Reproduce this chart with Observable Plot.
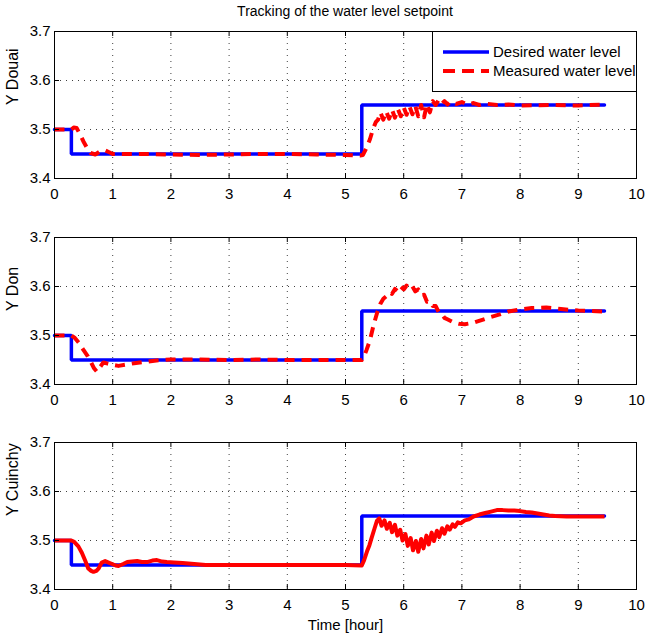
<!DOCTYPE html>
<html><head><meta charset="utf-8">
<script src="https://cdn.jsdelivr.net/npm/d3@7"></script>
<script src="https://cdn.jsdelivr.net/npm/@observablehq/plot@0.6"></script>
<style>
html,body{margin:0;padding:0;background:#fff;}
#wrap{position:relative;width:647px;height:638px;font-family:"Liberation Sans",Arial,sans-serif;}
.panel{position:absolute;left:0;}
#title{position:absolute;top:3px;left:145px;width:400px;text-align:center;font-size:14px;color:#000;}
#legend{position:absolute;left:432px;top:31px;width:203px;height:59px;border:1px solid #000;background:#fff;z-index:5;font-size:15px;}
#legend .row{position:absolute;left:0;height:20px;}
#legend span{position:absolute;left:60px;top:1px;white-space:nowrap;}
</style></head>
<body>
<div id="wrap">
  <div id="title">Tracking of the water level setpoint</div>
</div>
<script>
// ---- data ----
const xTicks = [0,1,2,3,4,5,6,7,8,9,10];
const yTicks = [3.4,3.5,3.6,3.7];
const xGrid = [1,2,3,4,5,6,7,8,9];
const yGrid = [3.5,3.6];

const desiredT = [0, 0.29, 0.29, 5.28, 5.28, 9.45];
const desiredY = [3.5, 3.5, 3.45, 3.45, 3.55, 3.55];

const douaiT = [0,0.29,0.33,0.38,0.43,0.5,0.56,0.62,0.7,0.78,0.86,0.93,1.0,1.5,2.0,2.5,3.0,3.5,4.0,4.5,5.0,5.25,5.3,5.35,5.42,5.47,5.52,5.56,5.6,5.65,5.7,5.75,5.8,5.85,5.9,5.95,6.0,6.05,6.1,6.15,6.2,6.25,6.3,6.35,6.4,6.45,6.5,6.55,6.6,6.65,6.7,6.75,6.8,6.9,7.0,7.1,7.2,7.3,7.4,7.6,7.8,8.0,8.5,9.0,9.45];
const douaiY = [3.5,3.5,3.504,3.503,3.492,3.475,3.462,3.452,3.449,3.455,3.458,3.454,3.45,3.45,3.449,3.448,3.449,3.45,3.45,3.449,3.448,3.447,3.448,3.46,3.48,3.5,3.515,3.52,3.535,3.52,3.537,3.522,3.54,3.524,3.542,3.527,3.545,3.53,3.547,3.531,3.548,3.527,3.55,3.525,3.552,3.535,3.558,3.55,3.56,3.552,3.558,3.551,3.557,3.552,3.556,3.551,3.554,3.55,3.553,3.55,3.551,3.549,3.55,3.549,3.551];

const donT = [0,0.29,0.35,0.42,0.5,0.57,0.63,0.68,0.73,0.78,0.84,0.9,1.0,1.1,1.25,1.4,1.55,1.75,2.0,2.5,3.0,3.5,4.0,4.5,5.0,5.28,5.31,5.36,5.42,5.48,5.54,5.6,5.65,5.7,5.75,5.8,5.85,5.9,5.95,6.0,6.05,6.1,6.15,6.2,6.25,6.3,6.35,6.4,6.45,6.5,6.55,6.6,6.65,6.7,6.75,6.85,6.95,7.05,7.2,7.35,7.5,7.65,7.8,8.0,8.2,8.45,8.7,9.0,9.45];
const donY = [3.5,3.5,3.495,3.485,3.47,3.458,3.445,3.433,3.426,3.435,3.445,3.443,3.44,3.438,3.441,3.444,3.446,3.449,3.451,3.451,3.45,3.451,3.45,3.45,3.45,3.45,3.455,3.47,3.49,3.52,3.545,3.565,3.575,3.58,3.588,3.585,3.595,3.59,3.6,3.594,3.602,3.595,3.6,3.59,3.594,3.582,3.583,3.569,3.57,3.56,3.56,3.548,3.545,3.536,3.533,3.527,3.524,3.523,3.526,3.532,3.538,3.543,3.549,3.553,3.556,3.557,3.554,3.551,3.549];

const cuinT = [0,0.29,0.33,0.41,0.47,0.53,0.58,0.63,0.67,0.72,0.76,0.81,0.87,0.93,0.99,1.05,1.1,1.18,1.25,1.33,1.42,1.5,1.59,1.68,1.76,1.85,1.93,2.05,2.2,2.4,2.6,3.0,3.5,4.0,4.5,5.0,5.28,5.32,5.37,5.41,5.45,5.5,5.54,5.58,5.62,5.67,5.71,5.76,5.8,5.85,5.89,5.94,5.98,6.03,6.07,6.12,6.16,6.21,6.25,6.3,6.34,6.39,6.43,6.48,6.52,6.57,6.61,6.66,6.7,6.75,6.79,6.84,6.88,6.93,6.98,7.05,7.12,7.2,7.3,7.4,7.5,7.6,7.7,7.8,7.9,8.0,8.1,8.2,8.3,8.4,8.5,8.6,8.8,9.0,9.2,9.45];
const cuinY = [3.5,3.5,3.498,3.488,3.475,3.458,3.443,3.438,3.436,3.438,3.443,3.455,3.458,3.455,3.452,3.449,3.448,3.452,3.456,3.457,3.458,3.456,3.456,3.459,3.46,3.457,3.456,3.455,3.454,3.452,3.45,3.45,3.45,3.45,3.45,3.45,3.449,3.46,3.478,3.49,3.506,3.525,3.54,3.545,3.53,3.541,3.524,3.536,3.517,3.532,3.51,3.522,3.5,3.513,3.489,3.505,3.48,3.499,3.477,3.503,3.484,3.51,3.492,3.516,3.499,3.52,3.507,3.525,3.514,3.529,3.522,3.533,3.528,3.537,3.535,3.541,3.543,3.549,3.553,3.556,3.559,3.562,3.562,3.561,3.561,3.56,3.558,3.557,3.555,3.553,3.551,3.55,3.549,3.549,3.549,3.549];

const panelNames = ["Y Douai", "Y Don", "Y Cuinchy"];

// ---- build ----
const toRows = (T, Y) => T.map((t, i) => ({t, v: Y[i]}));
const desired = toRows(desiredT, desiredY);
const measured = [toRows(douaiT, douaiY), toRows(donT, donY), toRows(cuinT, cuinY)];
const dashed = [true, true, false];
const svgTops = [21, 227, 432];
const MT = 10, FH = 147, MB = 45, ML = 54, MR = 11, W = 647;
const FW = W - ML - MR;

const wrap = document.getElementById("wrap");
const font = '"Liberation Sans", Arial, sans-serif';

panelNames.forEach((name, i) => {
  const last = i === 2;
  const chart = Plot.plot({
    width: W, height: MT + FH + MB,
    marginLeft: ML, marginRight: MR, marginTop: MT, marginBottom: MB,
    x: {domain: [0, 10]},
    y: {domain: [3.4, 3.7]},
    style: {fontFamily: font, fontSize: "15px", color: "#000", background: "transparent", overflow: "visible"},
    marks: [
      Plot.ruleX(xGrid, {x: d => d, stroke: "#000", strokeOpacity: 0.75, strokeDasharray: "1,5"}),
      Plot.ruleY(yGrid, {y: d => d, stroke: "#000", strokeOpacity: 0.75, strokeDasharray: "1,5"}),
      Plot.line(desired, {x: "t", y: "v", stroke: "#0000ff", strokeWidth: 3.5, curve: "linear", strokeLinejoin: "miter"}),
      Plot.line(measured[i], {x: "t", y: "v", stroke: "#ff0000", strokeWidth: 4, curve: "linear",
        strokeDasharray: dashed[i] ? "10,7" : null, strokeLinecap: "butt", strokeLinejoin: "round"}),
      Plot.tickX(xTicks, {x: d => d, stroke: "#000", insetTop: FH - 5}),
      Plot.tickX(xTicks, {x: d => d, stroke: "#000", insetBottom: FH - 5}),
      Plot.tickY(yTicks, {y: d => d, stroke: "#000", insetRight: FW - 5}),
      Plot.tickY(yTicks, {y: d => d, stroke: "#000", insetLeft: FW - 5}),
      Plot.frame({stroke: "#000", strokeWidth: 1}),
      Plot.axisX(xTicks, {tickSize: 0, tickPadding: 10, tickFormat: d => String(d),
        label: last ? "Time [hour]" : null, labelAnchor: "center", labelOffset: 40, labelArrow: "none"}),
      Plot.axisY(yTicks, {tickSize: 0, tickPadding: 4, tickFormat: d => d.toFixed(1), label: null}),
      Plot.text([name], {frameAnchor: "left", text: d => d, dx: -42, rotate: -90, fontSize: 16, fill: "#000"})
    ]
  });
  chart.classList.add("panel");
  chart.style.top = svgTops[i] + "px";
  wrap.appendChild(chart);
});

// legend
const leg = document.createElement("div");
leg.id = "legend";
leg.innerHTML = `
  <div class="row" style="top:10px;width:203px">
    <svg width="58" height="20" style="position:absolute;left:0;top:0"><line x1="10" x2="56" y1="10" y2="10" stroke="#0000ff" stroke-width="3.5"/></svg>
    <span>Desired water level</span></div>
  <div class="row" style="top:29px;width:203px">
    <svg width="58" height="20" style="position:absolute;left:0;top:0"><line x1="10" x2="56" y1="10" y2="10" stroke="#ff0000" stroke-width="4" stroke-dasharray="12,7"/></svg>
    <span>Measured water level</span></div>`;
wrap.appendChild(leg);
</script>
</body></html>
